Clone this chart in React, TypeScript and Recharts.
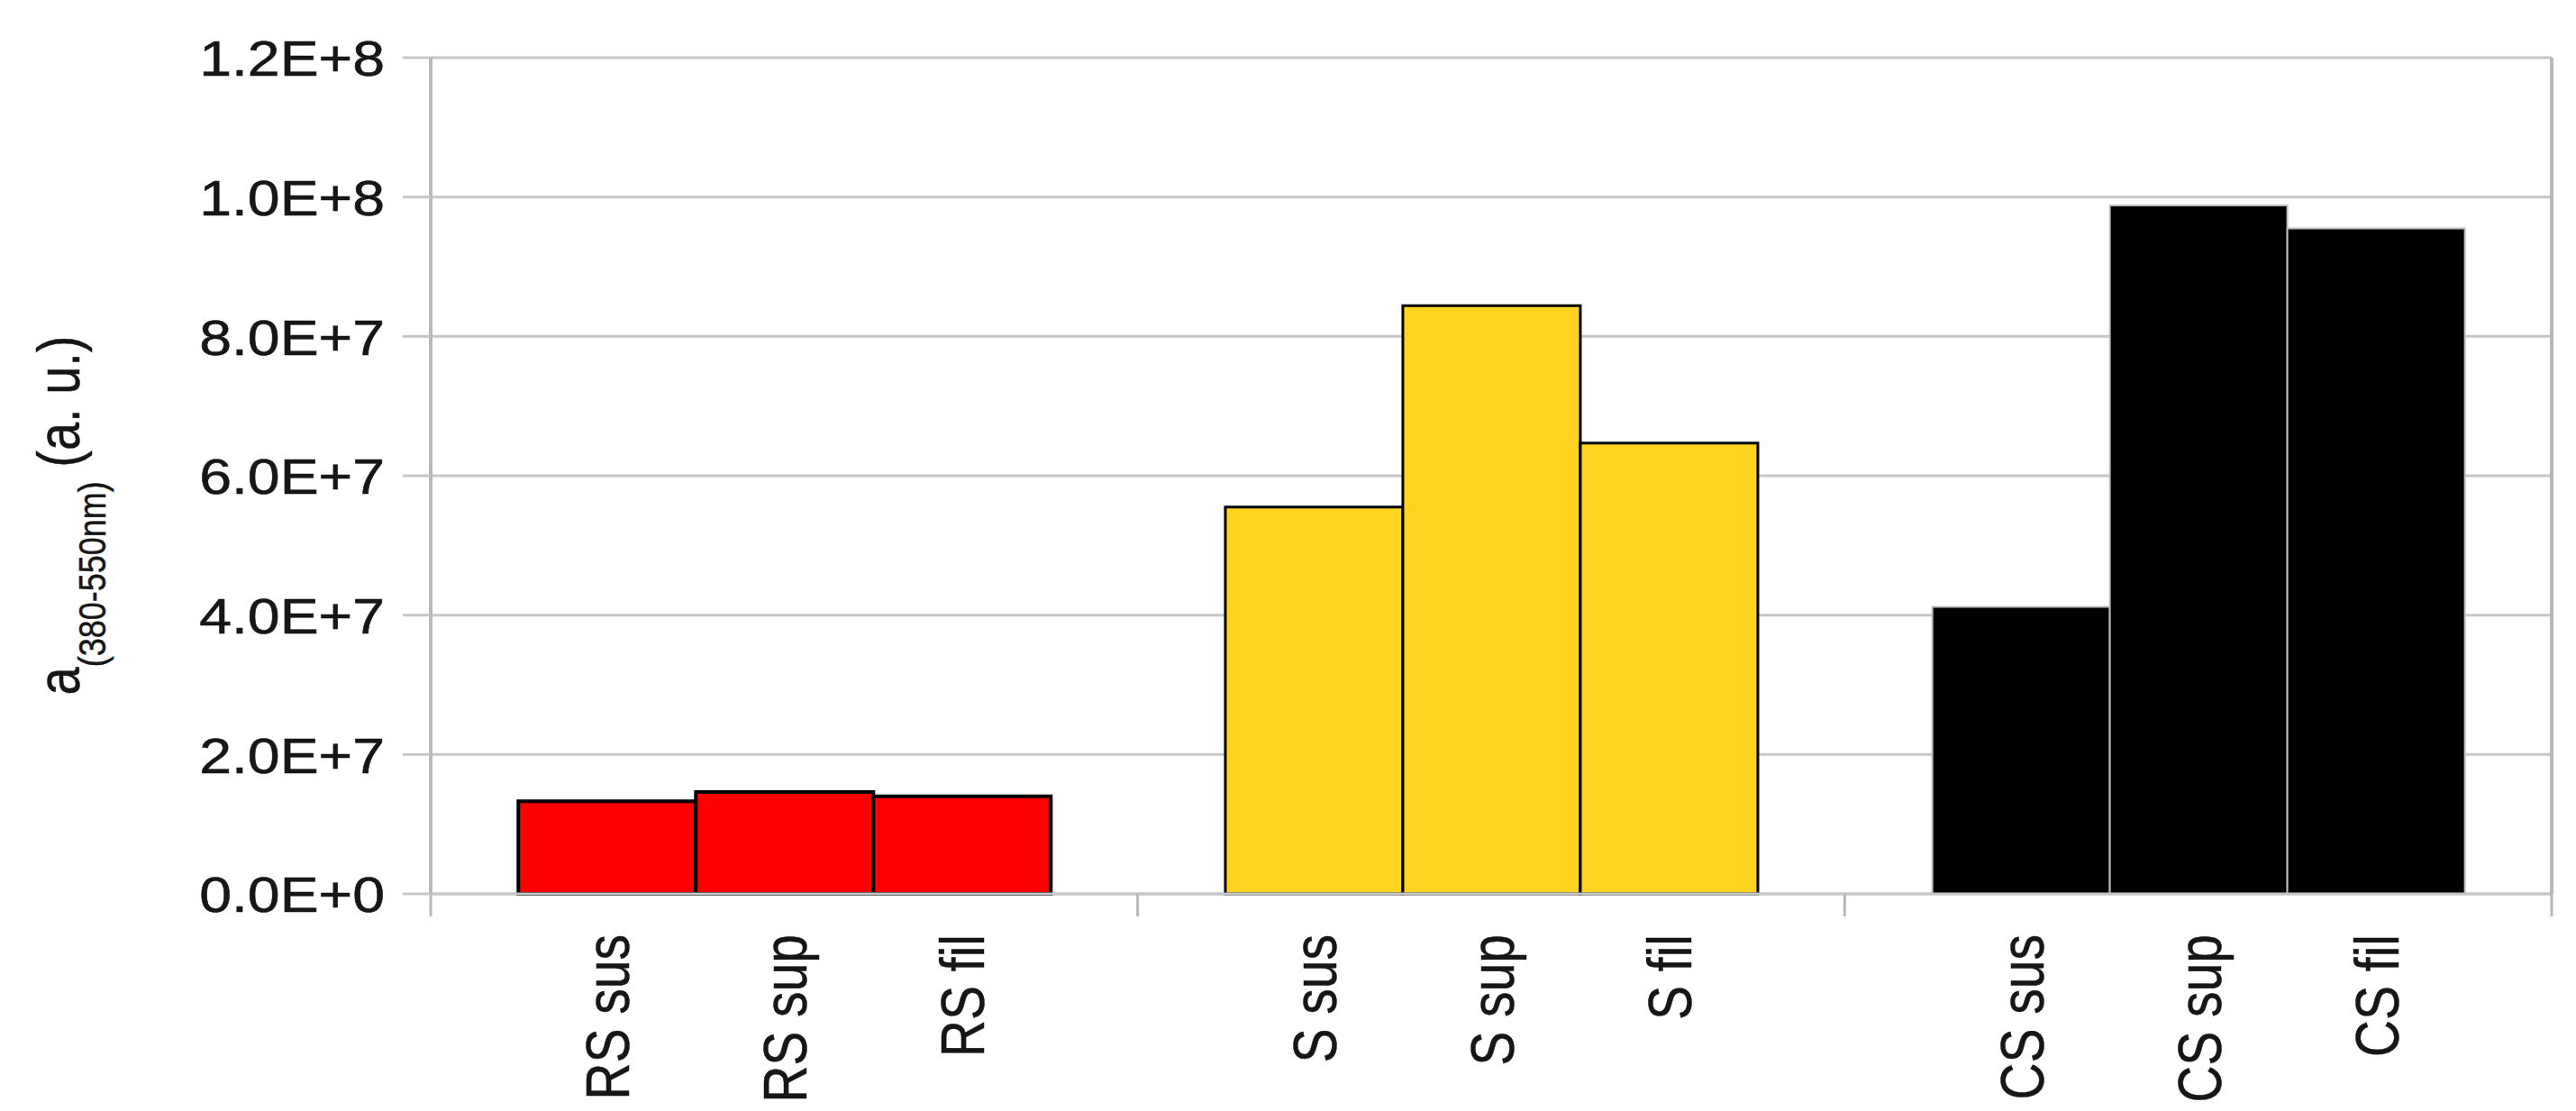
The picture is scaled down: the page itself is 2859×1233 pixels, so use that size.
import React from "react";
import { BarChart, Bar, XAxis, YAxis, CartesianGrid, Cell, LabelList } from "recharts";

const groups = ["RS", "S", "CS"];
const seriesNames = ["sus", "sup", "fil"];
const susValues = [1.33e7, 5.55e7, 4.12e7];
const supValues = [1.46e7, 8.44e7, 9.88e7];
const filValues = [1.4e7, 6.47e7, 9.55e7];
const yTicks = [0, 2e7, 4e7, 6e7, 8e7, 1e8, 1.2e8];
const boundaryTicks = [0, 1, 2, 3];
const groupFill = ["#ff0000", "#ffd320", "#000000"];
const groupStroke = ["#000000", "#000000", "#bdbdbd"];
const groupStrokeWidth = [4, 3, 2];

const data = groups.map((g, i) => ({
  group: g,
  sus: susValues[i],
  sup: supValues[i],
  fil: filValues[i],
  pos: i + 0.5,
}));

const FONT = "'Liberation Sans', Arial, sans-serif";
const GRID = "#c6c6c6";
const AXIS = "#b8b8b8";
const TEXT = "#161616";
const STRETCH = 1.15;

function fmt(v: number): string {
  if (v === 0) return "0.0E+0";
  const e = Math.floor(Math.log10(v) + 1e-9);
  const m = v / Math.pow(10, e);
  return m.toFixed(1) + "E+" + e;
}

function YTick(props: any) {
  const { x, y, payload } = props;
  return (
    <g transform={`translate(${x} ${y}) scale(${STRETCH} 1)`}>
      <text
        x={0}
        y={0}
        dy="0.36em"
        textAnchor="end"
        fontFamily={FONT}
        fontSize={56}
        fill={TEXT}
        stroke={TEXT}
        strokeWidth={0.6}
      >
        {fmt(payload.value)}
      </text>
    </g>
  );
}

function makeLabel(series: string) {
  return (props: any) => {
    const vb = props.viewBox || {};
    const x = props.x ?? vb.x;
    const y = props.y ?? vb.y;
    const w = props.width ?? vb.width;
    const h = props.height ?? vb.height;
    const cx = x + w / 2;
    const base = y + h;
    const ay = base + 45;
    return (
      <g transform={`translate(${cx} ${ay}) scale(1.2 1) rotate(-90)`}>
        <text
          x={0}
          y={0}
          dy="0.36em"
          textAnchor="end"
          fontFamily={FONT}
          fontSize={57}
          fill={TEXT}
          stroke={TEXT}
          strokeWidth={0.4}
        >
          {`${props.value} ${series}`}
        </text>
      </g>
    );
  };
}

function YTitle(props: any) {
  const vb = props.viewBox || {};
  const cx = 88;
  const cy = vb.y + vb.height / 2 + 44;
  return (
    <g transform={`translate(${cx} ${cy}) scale(1.2 1) rotate(-90)`}>
      <text
        x={0}
        y={0}
        textAnchor="middle"
        fontFamily={FONT}
        fill={TEXT}
        stroke={TEXT}
        strokeWidth={0.4}
        fontSize={56}
      >
        <tspan>a</tspan>
        <tspan fontSize={36} dy={24}>(380-550nm)</tspan>
        <tspan dy={-24}> (a. u.)</tspan>
      </text>
    </g>
  );
}

export default function App() {
  return (
    <div style={{ position: "absolute", left: 0, top: 0, width: 2859, height: 1233, background: "#ffffff" }}>
      <BarChart
        width={2859}
        height={1233}
        data={data}
        margin={{ top: 64, right: 0, bottom: 0, left: 0 }}
        barGap={0}
        barCategoryGap="12.4%"
      >
        <CartesianGrid horizontal={true} vertical={false} stroke={GRID} strokeWidth={3} />
        <XAxis dataKey="group" hide height={0} />
        <XAxis
          xAxisId="b"
          dataKey="pos"
          type="number"
          domain={[0, 3]}
          ticks={boundaryTicks}
          tickFormatter={() => ""}
          height={241}
          tickSize={25}
          tickLine={{ stroke: AXIS, strokeWidth: 3 }}
          axisLine={{ stroke: GRID, strokeWidth: 3 }}
        />
        <YAxis
          domain={[0, 1.2e8]}
          ticks={yTicks}
          width={478}
          tickSize={31}
          tickMargin={20}
          tick={<YTick />}
          tickLine={{ stroke: GRID, strokeWidth: 3 }}
          axisLine={{ stroke: AXIS, strokeWidth: 4 }}
          label={{ content: (p: any) => <YTitle {...p} /> }}
        />
        <YAxis
          yAxisId="r"
          orientation="right"
          domain={[0, 1.2e8]}
          ticks={yTicks}
          width={27}
          tick={false}
          tickLine={false}
          axisLine={{ stroke: AXIS, strokeWidth: 4 }}
        />
        {seriesNames.map((s) => (
          <Bar key={s} dataKey={s} isAnimationActive={false}>
            {data.map((d, i) => (
              <Cell key={d.group} fill={groupFill[i]} stroke={groupStroke[i]} strokeWidth={groupStrokeWidth[i]} />
            ))}
            <LabelList dataKey="group" content={makeLabel(s)} />
          </Bar>
        ))}
      </BarChart>
    </div>
  );
}
